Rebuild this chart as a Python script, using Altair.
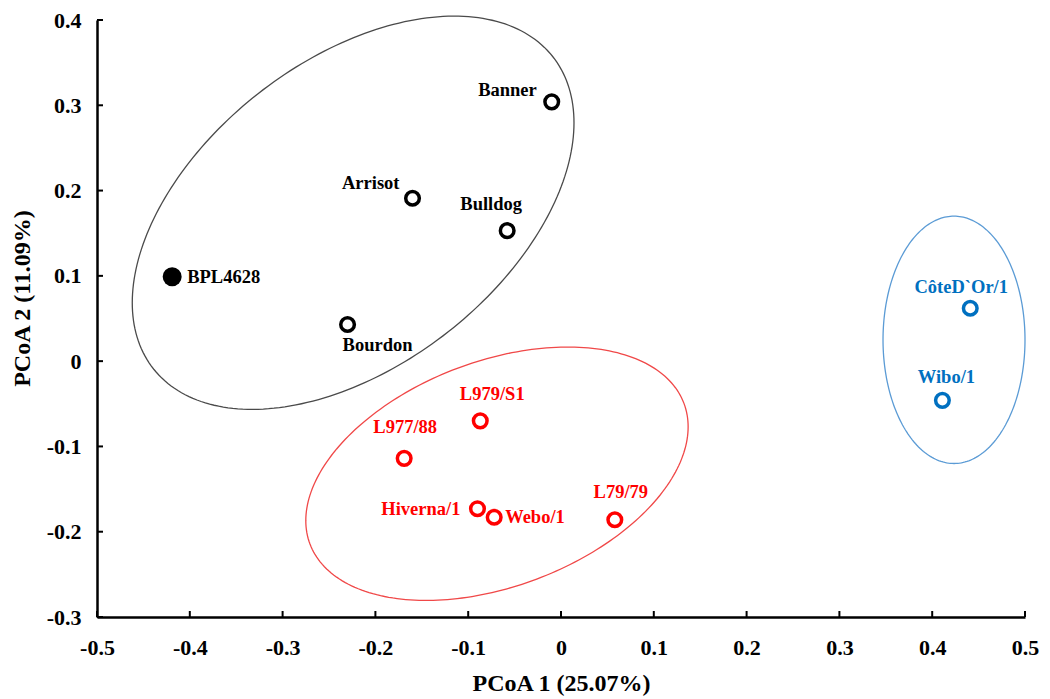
import altair as alt
import numpy as np
import pandas as pd

# ---- data ----
names = ["Banner", "Arrisot", "Bulldog", "BPL4628", "Bourdon",
         "L979/S1", "L977/88", "Hiverna/1", "Webo/1", "L79/79",
         "CôteD`Or/1", "Wibo/1"]
pc1 = [-0.010, -0.160, -0.058, -0.419, -0.230,
       -0.087, -0.169, -0.090, -0.072, 0.058,
       0.441, 0.411]
pc2 = [0.304, 0.191, 0.153, 0.099, 0.043,
       -0.070, -0.114, -0.173, -0.183, -0.186,
       0.062, -0.046]
groups = ["black", "black", "black", "ref", "black",
          "red", "red", "red", "red", "red",
          "blue", "blue"]

x_ticks = [-0.5, -0.4, -0.3, -0.2, -0.1, 0.0, 0.1, 0.2, 0.3, 0.4, 0.5]
y_ticks = [-0.3, -0.2, -0.1, 0.0, 0.1, 0.2, 0.3, 0.4]

# ellipse outlines: centre and two conjugate half-axis vectors (data units)
ell_center_x = [-0.224, -0.069, 0.4235]
ell_center_y = [0.174, -0.132, 0.025]
ell_u = [(0.238, 0.1055), (0.206, 0.055), (0.0765, 0.0)]
ell_v = [(0.0, -0.205), (0.0, -0.138), (0.0, -0.145)]

# ---- styles ----
ELL_COLORS = ["#4a4a4a", "#f04848", "#5b9bd5"]
GROUP_COLORS = {"black": "#000000", "ref": "#000000", "red": "#ff0000", "blue": "#0070c0"}
LABEL_STYLE = {  # align, dx, dy
    "Banner": ("right", -15, -12),
    "Arrisot": ("right", -13, -15),
    "Bulldog": ("center", -16, -27),
    "BPL4628": ("left", 15, 0),
    "Bourdon": ("center", 30, 21),
    "L979/S1": ("center", 12, -27),
    "L977/88": ("center", 1, -31),
    "Hiverna/1": ("right", -17, 0),
    "Webo/1": ("left", 11, 0),
    "L79/79": ("center", 6, -28),
    "CôteD`Or/1": ("center", -9, -21),
    "Wibo/1": ("center", 4, -23),
}
FONT = "Liberation Serif"
W, H = 928, 597

df = pd.DataFrame({"x": pc1, "y": pc2, "name": names, "group": groups})

label_expr = ("abs(datum.value) < 1e-9 ? '0' : (datum.value < 0 ? '-' : '') + "
              "format(abs(datum.value), '.1f')")

x_axis = alt.Axis(values=x_ticks, title="PCoA 1 (25.07%)", labelExpr=label_expr,
                  ticks=False, tickSize=0, grid=False, domainColor="black", domainWidth=2.5,
                  labelFont=FONT, labelFontWeight="bold", labelFontSize=22, labelColor="black",
                  labelPadding=20, labelFlush=False,
                  titleFont=FONT, titleFontWeight="bold", titleFontSize=24, titleColor="black",
                  titleX=W / 2, titleY=66, titleBaseline="middle", titleAlign="center")
y_axis = alt.Axis(values=y_ticks, title="PCoA 2 (11.09%)", labelExpr=label_expr,
                  ticks=False, tickSize=0, grid=False, domainColor="black", domainWidth=2.5,
                  labelFont=FONT, labelFontWeight="bold", labelFontSize=22, labelColor="black",
                  labelPadding=16, labelFlush=False, labelBaseline="middle",
                  titleFont=FONT, titleFontWeight="bold", titleFontSize=24, titleColor="black",
                  titleX=-75, titleY=278, titleBaseline="middle", titleAlign="center", titleAngle=270)

xs = alt.Scale(domain=[-0.5, 0.5], nice=False, zero=False)
ys = alt.Scale(domain=[-0.3, 0.4], nice=False, zero=False)
X = alt.X("x:Q", scale=xs, axis=x_axis)
Y = alt.Y("y:Q", scale=ys, axis=y_axis)

layers = []

# ellipses
t = np.linspace(0, 2 * np.pi, 241)
for i in range(len(ell_center_x)):
    ex = ell_center_x[i] + ell_u[i][0] * np.cos(t) + ell_v[i][0] * np.sin(t)
    ey = ell_center_y[i] + ell_u[i][1] * np.cos(t) + ell_v[i][1] * np.sin(t)
    edf = pd.DataFrame({"x": ex, "y": ey, "k": np.arange(len(t))})
    layers.append(alt.Chart(edf).mark_line(color=ELL_COLORS[i], strokeWidth=1.3)
                  .encode(x=X, y=Y, order="k:Q"))

# inward ticks
xt = pd.DataFrame({"x": x_ticks})
layers.append(alt.Chart(xt).mark_rule(color="black", strokeWidth=2)
              .encode(x=X, y=alt.value(H), y2=alt.value(H - 6)))
yt = pd.DataFrame({"y": y_ticks})
layers.append(alt.Chart(yt).mark_rule(color="black", strokeWidth=2)
              .encode(y=Y, x=alt.value(0), x2=alt.value(6)))

# points
for g in ["black", "red", "blue"]:
    layers.append(alt.Chart(df[df.group == g]).mark_point(
        shape="circle", filled=False, size=185, strokeWidth=3.5, color=GROUP_COLORS[g], opacity=1)
        .encode(x=X, y=Y))
layers.append(alt.Chart(df[df.group == "ref"]).mark_point(
    shape="circle", filled=True, size=360, color="#000000", opacity=1).encode(x=X, y=Y))

# labels
for n, g in zip(names, groups):
    align, dx, dy = LABEL_STYLE[n]
    layers.append(alt.Chart(df[df.name == n]).mark_text(
        align=align, baseline="middle", dx=dx, dy=dy, font=FONT, fontWeight="bold",
        fontSize=18.5, color=GROUP_COLORS[g]).encode(x=X, y=Y, text="name:N"))

chart = alt.layer(*layers).properties(
    width=W, height=H,
    autosize=alt.AutoSizeParams(type="none"),
    padding={"left": 89, "top": 12, "right": 17, "bottom": 81},
    background="white",
).configure_view(stroke=None)

chart.save("out.html", embed_options={"renderer": "svg", "actions": False})
